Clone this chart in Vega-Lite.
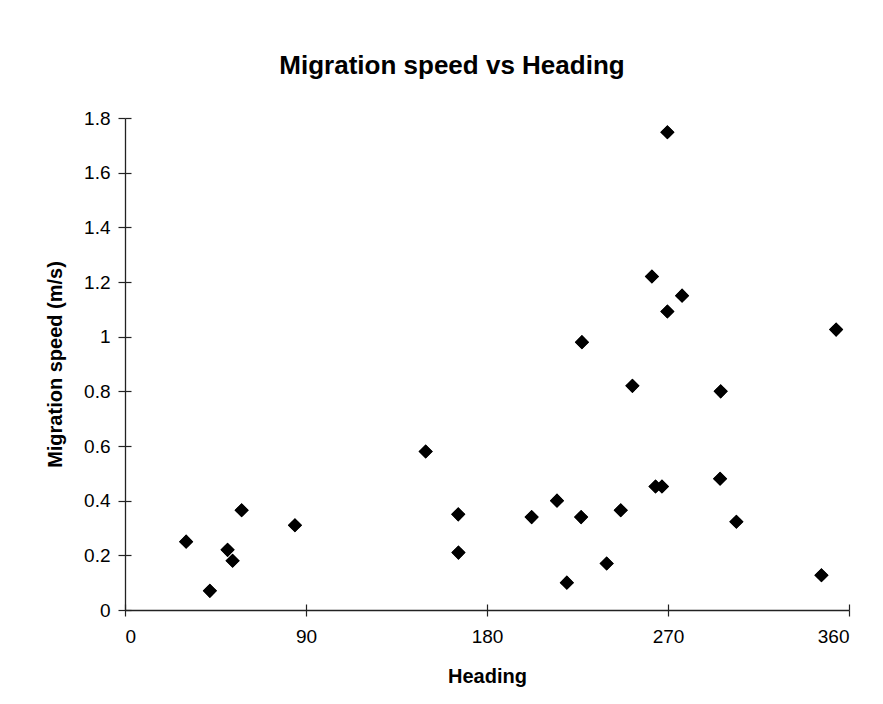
{
  "$schema": "https://vega.github.io/schema/vega-lite/v6.json",
  "width": 724,
  "height": 492,
  "autosize": {"type": "none"},
  "padding": {"left": 125, "top": 118, "right": 34, "bottom": 94},
  "background": "white",
  "title": {
    "text": "Migration speed vs Heading",
    "font": "Liberation Sans",
    "fontSize": 26,
    "fontWeight": "bold",
    "color": "black",
    "anchor": "middle",
    "baseline": "alphabetic",
    "dx": -35,
    "offset": 9
  },
  "data": {
    "values": [
      {"heading": 30.4, "speed": 0.25},
      {"heading": 42.2, "speed": 0.07},
      {"heading": 51.0, "speed": 0.22},
      {"heading": 53.5, "speed": 0.18},
      {"heading": 58.0, "speed": 0.365},
      {"heading": 84.5, "speed": 0.31},
      {"heading": 149.5, "speed": 0.58},
      {"heading": 165.7, "speed": 0.35},
      {"heading": 165.8, "speed": 0.21},
      {"heading": 202.2, "speed": 0.34},
      {"heading": 214.8, "speed": 0.4},
      {"heading": 219.7, "speed": 0.1},
      {"heading": 226.8, "speed": 0.34},
      {"heading": 227.2, "speed": 0.98},
      {"heading": 239.5, "speed": 0.17},
      {"heading": 246.5, "speed": 0.365},
      {"heading": 252.3, "speed": 0.82},
      {"heading": 262.0, "speed": 1.22},
      {"heading": 263.8, "speed": 0.452},
      {"heading": 267.0, "speed": 0.452},
      {"heading": 269.7, "speed": 1.748},
      {"heading": 269.7, "speed": 1.092},
      {"heading": 277.0, "speed": 1.15},
      {"heading": 296.2, "speed": 0.8},
      {"heading": 295.9, "speed": 0.48},
      {"heading": 304.0, "speed": 0.323},
      {"heading": 346.3, "speed": 0.127},
      {"heading": 353.6, "speed": 1.026}
    ]
  },
  "layer": [
    {
      "mark": {"type": "point", "shape": "diamond", "filled": true, "size": 200, "color": "black", "opacity": 1},
      "encoding": {
        "x": {
          "field": "heading",
          "type": "quantitative",
          "scale": {"domain": [0, 360], "nice": false, "zero": false},
          "axis": {
            "orient": "bottom",
            "values": [0, 90, 180, 270, 360],
            "title": "Heading",
            "tickSize": 6,
            "labelPadding": 11,
            "titlePadding": 20
          }
        },
        "y": {
          "field": "speed",
          "type": "quantitative",
          "scale": {"domain": [0, 1.8], "nice": false, "zero": true},
          "axis": {
            "orient": "left",
            "values": [0, 0.2, 0.4, 0.6, 0.8, 1, 1.2, 1.4, 1.6, 1.8],
            "format": "~g",
            "title": "Migration speed (m/s)",
            "tickSize": 7,
            "labelPadding": 8,
            "titlePadding": 18
          }
        }
      }
    },
    {
      "mark": {"type": "point", "shape": "diamond", "filled": true, "size": 200, "color": "black", "opacity": 1},
      "encoding": {
        "x": {
          "field": "heading",
          "type": "quantitative",
          "axis": {
            "orient": "top",
            "values": [0, 90, 180, 270, 360],
            "title": null,
            "labels": false,
            "domain": false,
            "offset": -492,
            "tickSize": 6
          }
        },
        "y": {
          "field": "speed",
          "type": "quantitative",
          "axis": {
            "orient": "right",
            "values": [0, 0.2, 0.4, 0.6, 0.8, 1, 1.2, 1.4, 1.6, 1.8],
            "title": null,
            "labels": false,
            "domain": false,
            "offset": -724,
            "tickSize": 6
          }
        }
      }
    }
  ],
  "resolve": {"axis": {"x": "independent", "y": "independent"}},
  "config": {
    "view": {"stroke": null},
    "axis": {
      "grid": false,
      "domainColor": "#222222",
      "domainWidth": 1.3,
      "tickColor": "#222222",
      "tickWidth": 1.2,
      "labelFont": "Liberation Sans",
      "labelFontSize": 19,
      "labelColor": "black",
      "titleFont": "Liberation Sans",
      "titleFontSize": 20,
      "titleFontWeight": "bold",
      "titleColor": "black"
    }
  }
}
